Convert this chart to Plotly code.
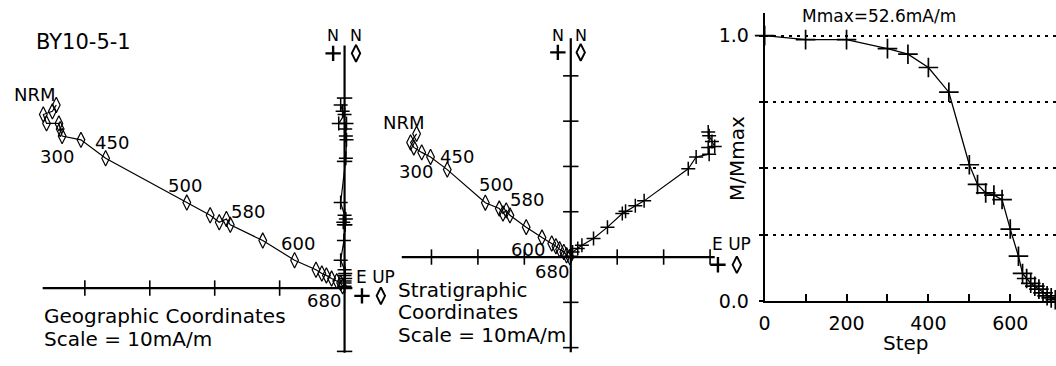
import plotly.graph_objects as go

W, H = 1056, 366

# ---- Geographic coordinates (mA/m): horizontal (E, N) and vertical (Up, N) projections
geo_east = [-44.4, -45.0, -46.4, -45.9, -44.0, -43.8, -43.5, -40.6, -36.8, -24.3, -20.7, -19.3,
            -18.2, -17.6, -12.6, -7.7, -4.4, -3.5, -2.8, -2.0, -1.2, -0.6, -0.3]
geo_north = [28.9, 27.9, 27.4, 26.0, 26.0, 25.1, 24.0, 23.4, 20.5, 13.5, 11.5, 10.4,
             10.9, 10.0, 7.5, 4.4, 2.9, 2.3, 2.0, 1.5, 1.1, 0.8, 0.3]
geo_up = [-0.6, -0.3, 0.0, -0.9, 0.3, 0.1, 0.2, 0.3, 0.2, -0.6, 0.0, -0.2,
          0.2, 0.1, -0.1, -0.6, 0.0, 0.1, 0.0, 0.1, 0.0, 0.0, 0.0]

# ---- Stratigraphic coordinates (mA/m)
strat_h_east = [-33.2, -34.5, -33.8, -32.1, -30.2, -26.6, -18.4, -15.4, -14.6, -13.9, -13.1,
                -9.6, -6.2, -4.1, -3.2, -2.4, -1.5, -0.9, -0.2]
strat_h_north = [27.2, 25.3, 24.2, 23.1, 22.1, 19.3, 12.0, 10.7, 9.6, 10.3, 9.2,
                 6.6, 4.3, 3.0, 2.4, 1.7, 1.1, 0.4, 0.0]
strat_v_up = [29.6, 29.8, 30.4, 31.0, 29.6, 29.8, 27.0, 25.3, 15.8, 13.9, 11.8, 11.1,
              7.9, 4.9, 2.4, 1.5, 0.4, 0.0]
strat_v_north = [27.6, 26.8, 25.5, 24.4, 24.2, 22.7, 22.1, 19.5, 12.4, 11.3, 10.1, 9.6,
                 6.6, 4.1, 2.6, 1.9, 1.1, 0.2]

# ---- Demagnetisation curve
demag_steps = [0, 100, 200, 300, 350, 400, 450, 500, 520, 540, 560, 580, 600, 620, 630,
               640, 650, 660, 670, 680, 690, 700, 710]
demag_m = [1.0, 0.985, 0.985, 0.951, 0.93, 0.88, 0.787, 0.514, 0.44, 0.408, 0.40, 0.383,
           0.272, 0.17, 0.105, 0.086, 0.068, 0.057, 0.046, 0.032, 0.021, 0.013, 0.006]
m_max = 52.6

# step labels written beside the projections
step_labels = ["NRM", "300", "450", "500", "580", "600", "680"]
geo_label_xy = [(-47.7, 30.6), (-44.3, 20.7), (-35.8, 23.0), (-24.6, 16.2),
                (-14.8, 12.1), (-7.1, 7.0), (-3.1, -2.0)]
strat_label_xy = [(-36.0, 29.8), (-33.4, 18.8), (-24.4, 22.1), (-16.1, 16.1),
                  (-9.4, 12.6), (-9.2, 1.7), (-4.1, -3.2)]

FONT = "DejaVu Sans"
BLACK = "black"

# pixel frames of the two projection panels: origin (px) and px per mA/m
GEO_FRAME = (340.5, 297.0, 6.53)
STRAT_FRAME = (568.0, 265.0, 4.67)


def px(x):
    return x / W


def py(y):
    return 1 - y / H


def to_frame(frame, x, y):
    ox, oy, s = frame
    return (x - ox) / s, (oy - y) / s


fig = go.Figure()


# ---------- Zijderveld panels ----------
def zijderveld(xa, ya, h_e, h_n, v_u, v_n, hticks, vticks):
    fig.add_trace(go.Scatter(
        x=h_e, y=h_n, xaxis=xa, yaxis=ya, mode="lines+markers",
        line=dict(color=BLACK, width=1.2),
        marker=dict(symbol="diamond-tall-open", size=11, color=BLACK,
                    line=dict(color=BLACK, width=1.2)),
        cliponaxis=False, showlegend=False))
    fig.add_trace(go.Scatter(
        x=v_u, y=v_n, xaxis=xa, yaxis=ya, mode="lines+markers",
        line=dict(color=BLACK, width=1.2),
        marker=dict(symbol="cross-thin-open", size=10, color=BLACK,
                    line=dict(color=BLACK, width=1.5)),
        cliponaxis=False, showlegend=False))
    # axis tick marks crossing the axes
    fig.add_trace(go.Scatter(
        x=hticks, y=[0] * len(hticks), xaxis=xa, yaxis=ya, mode="markers",
        marker=dict(symbol="line-ns", size=11, color=BLACK,
                    line=dict(color=BLACK, width=1.6)),
        cliponaxis=False, showlegend=False, hoverinfo="skip"))
    fig.add_trace(go.Scatter(
        x=[0] * len(vticks), y=vticks, xaxis=xa, yaxis=ya, mode="markers",
        marker=dict(symbol="line-ew", size=11, color=BLACK,
                    line=dict(color=BLACK, width=1.6)),
        cliponaxis=False, showlegend=False, hoverinfo="skip"))


zijderveld("x", "y", geo_east, geo_north, geo_up, geo_north,
           [-40, -30, -20, -10], [-10, 10, 20, 30])
zijderveld("x2", "y2", strat_h_east, strat_h_north, strat_v_up, strat_v_north,
           [-30, -20, -10, 10, 20, 30], [-20, -10, 10, 20, 30, 40])

# axis lines of the projections
axis_lines = [("x", "y", (-46.5, 1.2), (-10.2, 38.3)),
              ("x2", "y2", (-36.4, 31.0), (-21.0, 48.3))]
for xr, yr, (h0, h1), (v0, v1) in axis_lines:
    fig.add_shape(type="line", xref=xr, yref=yr, x0=h0, x1=h1, y0=0, y1=0,
                  line=dict(color=BLACK, width=2.2))
    fig.add_shape(type="line", xref=xr, yref=yr, x0=0, x1=0, y0=v0, y1=v1,
                  line=dict(color=BLACK, width=2.2))

# key symbols: "+" = vertical projection, diamond = horizontal projection
key_sets = [
    ("x", "y", GEO_FRAME, [(329, 55), (358, 305)], [(352, 55), (377, 305)]),
    ("x2", "y2", STRAT_FRAME, [(555, 54), (716, 273)], [(578, 54), (735, 273)]),
]
for xa, ya, frame, plus_pts, dia_pts in key_sets:
    pp = [to_frame(frame, *p) for p in plus_pts]
    dp = [to_frame(frame, *p) for p in dia_pts]
    fig.add_trace(go.Scatter(
        x=[p[0] for p in pp], y=[p[1] for p in pp], xaxis=xa, yaxis=ya, mode="markers",
        marker=dict(symbol="cross-thin-open", size=11, color=BLACK,
                    line=dict(color=BLACK, width=2.4)),
        cliponaxis=False, showlegend=False, hoverinfo="skip"))
    fig.add_trace(go.Scatter(
        x=[p[0] for p in dp], y=[p[1] for p in dp], xaxis=xa, yaxis=ya, mode="markers",
        marker=dict(symbol="diamond-tall-open", size=12, color=BLACK,
                    line=dict(color=BLACK, width=1.9)),
        cliponaxis=False, showlegend=False, hoverinfo="skip"))

# ---------- Demagnetisation curve ----------
fig.add_trace(go.Scatter(
    x=demag_steps, y=demag_m, xaxis="x3", yaxis="y3", mode="lines+markers",
    line=dict(color=BLACK, width=1.3),
    marker=dict(symbol="cross-thin-open", size=14, color=BLACK,
                line=dict(color=BLACK, width=1.7)),
    cliponaxis=False, showlegend=False))

ann = []


def text(x, y, s, size, xanchor="center", xref="paper", yref="paper", angle=0):
    ann.append(dict(x=x, y=y, xref=xref, yref=yref, text=s, showarrow=False,
                    xanchor=xanchor, yanchor="middle", textangle=angle,
                    font=dict(family=FONT, size=size, color=BLACK)))


for lab, (lx, ly) in zip(step_labels, geo_label_xy):
    text(lx, ly, lab, 18, xref="x", yref="y")
for lab, (lx, ly) in zip(step_labels, strat_label_xy):
    text(lx, ly, lab, 18, xref="x2", yref="y2")

text(px(28), py(43), "BY10-5-1", 21, xanchor="left")

for nx in (329, 352, 555, 578):
    text(px(nx), py(37), "N", 16)
for ex, ey in [(350, 286), (708, 252)]:
    text(px(ex), py(ey), "E UP", 17, xanchor="left")

text(px(36), py(326), "Geographic Coordinates", 20, xanchor="left")
text(px(36), py(349), "Scale = 10mA/m", 20, xanchor="left")
text(px(392), py(299), "Stratigraphic", 20, xanchor="left")
text(px(392), py(322), "Coordinates", 20, xanchor="left")
text(px(392), py(345), "Scale = 10mA/m", 20, xanchor="left")

text(px(878), py(17), f"Mmax={m_max}mA/m", 17)
text(px(735), py(163), "M/Mmax", 20, angle=-90)
text(px(905), py(354), "Step", 20)

hidden = dict(visible=False, showgrid=False, zeroline=False)
gx, gy, gs = GEO_FRAME
sx, sy, ss = STRAT_FRAME
fig.update_layout(
    width=W, height=H,
    margin=dict(l=0, r=0, t=0, b=0),
    paper_bgcolor="white", plot_bgcolor="white",
    font=dict(family=FONT, color=BLACK),
    showlegend=False,
    xaxis=dict(domain=[0, px(395)], range=[-gx / gs, (395 - gx) / gs], **hidden),
    yaxis=dict(domain=[0, 1], range=[(gy - H) / gs, gy / gs], **hidden),
    xaxis2=dict(domain=[px(395), px(745)], range=[(395 - sx) / ss, (745 - sx) / ss], **hidden),
    yaxis2=dict(domain=[0, 1], range=[(sy - H) / ss, sy / ss], **hidden),
    xaxis3=dict(domain=[px(763), 1.0], range=[0, 293 / 0.41167], anchor="y3",
                showline=True, linecolor=BLACK, linewidth=2, mirror=False,
                ticks="inside", ticklen=7, tickwidth=1.5, tickcolor=BLACK,
                tickvals=list(range(0, 701, 100)),
                ticktext=["0", "", "200", "", "400", "", "600", ""],
                tickfont=dict(family=FONT, size=19, color=BLACK),
                ticklabelstandoff=4,
                showgrid=False, zeroline=False),
    yaxis3=dict(domain=[py(310.7), py(13)], range=[0, (310.7 - 13) / 274], anchor="x3",
                showline=True, linecolor=BLACK, linewidth=2,
                ticks="outside", ticklen=4, tickwidth=1.5, tickcolor=BLACK,
                tickvals=[0, 0.25, 0.5, 0.75, 1.0],
                ticktext=["0.0", "", "", "", "1.0"],
                tickfont=dict(family=FONT, size=19, color=BLACK),
                ticklabelstandoff=6,
                showgrid=True, gridcolor=BLACK, gridwidth=1.5, griddash="3px,5px",
                zeroline=False),
    annotations=ann,
)

fig.write_html("out.html")
